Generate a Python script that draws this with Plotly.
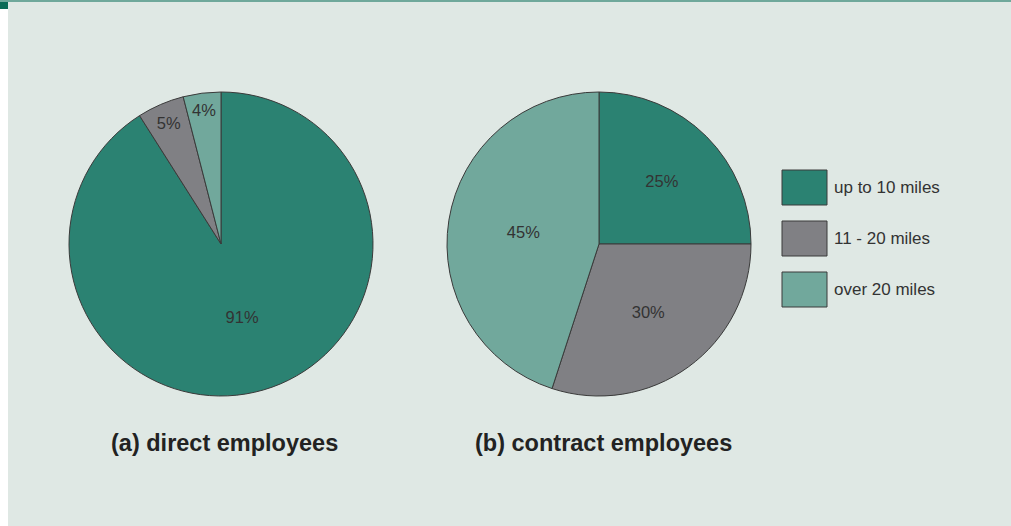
import plotly.graph_objects as go

# Commuting distance categories and shares (%)
categories = ["up to 10 miles", "11 - 20 miles", "over 20 miles"]
direct_share = [91, 5, 4]
contract_share = [25, 30, 45]
panel_titles = ["(a) direct employees", "(b) contract employees"]

colors = ["#2b8272", "#808084", "#71a89c"]
W, H = 1011, 526
FONT = "Liberation Sans, Arial, Helvetica, sans-serif"


def px_x(v):
    return v / W


def px_y(v):
    return 1 - v / H


fig = go.Figure()

pie_boxes = [(69, 373), (447, 751)]
cy, r = 244, 152
for (x0, x1), vals in zip(pie_boxes, [direct_share, contract_share]):
    fig.add_trace(go.Pie(
        labels=categories,
        values=vals,
        sort=False,
        direction="clockwise",
        rotation=0,
        marker=dict(colors=colors, line=dict(color="#3a3a3a", width=1)),
        texttemplate="%{value}%",
        textposition="inside",
        insidetextorientation="horizontal",
        textfont=dict(family=FONT, size=16.5, color="#333333"),
        hoverinfo="label+value",
        showlegend=False,
        domain=dict(x=[px_x(x0), px_x(x1)], y=[px_y(cy + r), px_y(cy - r)]),
    ))

shapes = [
    # left white strip and top accent
    dict(type="rect", xref="paper", yref="paper", x0=0, x1=px_x(8), y0=0, y1=1,
         fillcolor="white", line=dict(width=0), layer="below"),
    dict(type="rect", xref="paper", yref="paper", x0=0, x1=1, y0=px_y(2), y1=1,
         fillcolor="#6fa89b", line=dict(width=0)),
    dict(type="rect", xref="paper", yref="paper", x0=0, x1=px_x(8), y0=px_y(9), y1=px_y(2),
         fillcolor="#0b6b56", line=dict(width=0)),
]
annotations = []

# legend swatches with labels
for i, (cat, col) in enumerate(zip(categories, colors)):
    top = 170 + i * 51
    shapes.append(dict(type="rect", xref="paper", yref="paper",
                       x0=px_x(782), x1=px_x(827), y0=px_y(top + 35), y1=px_y(top),
                       fillcolor=col, line=dict(color="#3a3a3a", width=1)))
    annotations.append(dict(xref="paper", yref="paper", x=px_x(832), y=px_y(top + 17.5),
                            text=cat, showarrow=False, xanchor="left", yanchor="middle",
                            font=dict(family=FONT, size=17, color="#333333")))

# panel captions
for title, cx in zip(panel_titles, [224, 603]):
    annotations.append(dict(xref="paper", yref="paper", x=px_x(cx), y=px_y(443),
                            text="<b>" + title + "</b>", showarrow=False,
                            xanchor="center", yanchor="middle",
                            font=dict(family=FONT, size=23.5, color="#222222")))

fig.update_layout(
    width=W, height=H,
    margin=dict(l=0, r=0, t=0, b=0),
    paper_bgcolor="#dfe8e4",
    plot_bgcolor="#dfe8e4",
    uniformtext=dict(minsize=16.5, mode="show"),
    shapes=shapes,
    annotations=annotations,
)

fig.write_html("out.html")
